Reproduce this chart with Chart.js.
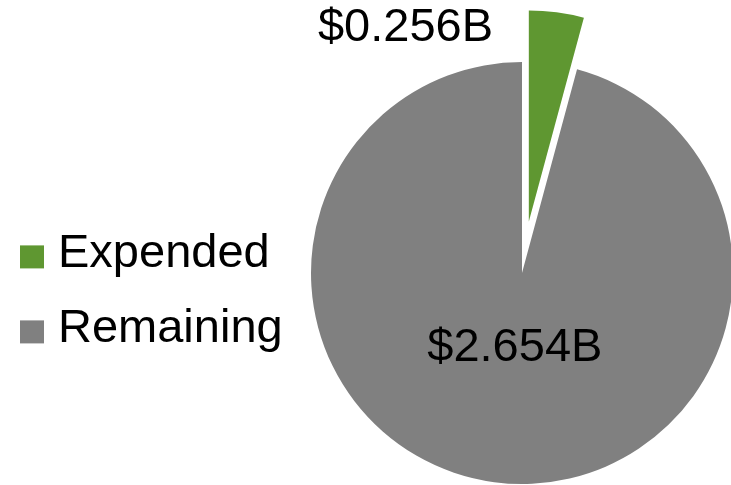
<!DOCTYPE html>
<html>
<head>
<meta charset="utf-8">
<script src="https://cdn.jsdelivr.net/npm/chart.js@4.4.0/dist/chart.umd.min.js"></script>
<style>
  html, body { margin: 0; padding: 0; background: #ffffff; overflow: hidden; }
  #wrap { width: 731px; height: 485px; position: relative; }
</style>
</head>
<body>
<div id="wrap"><canvas id="c"></canvas></div>
<script>
// ---- data ----
const categories = ['Expended', 'Remaining'];
const amountsBillions = [0.256, 2.654];          // printed on the slices
const sliceShares = [4.2, 95.8];                  // share of the circle each slice covers (%)
const sliceColors = ['#5F9731', '#808080'];
const explodeDistances = [52, 0];                 // px the slice is pulled out

const FONT = '"Liberation Sans", Arial, Helvetica, sans-serif';

// draws every arc through the library's ArcElement, translated along its mid-angle
const explodePlugin = {
  id: 'explode',
  beforeDatasetDraw(chart, args, opts) {
    const ctx = chart.ctx;
    args.meta.data.forEach((arc, i) => {
      const d = (opts.distances && opts.distances[i]) || 0;
      const mid = (arc.startAngle + arc.endAngle) / 2;
      ctx.save();
      ctx.translate(Math.cos(mid) * d, Math.sin(mid) * d);
      arc.draw(ctx);
      ctx.restore();
    });
    return false;
  }
};

// value labels, positioned relative to the pie centre in radius units
const valueLabelPlugin = {
  id: 'valueLabels',
  afterDatasetsDraw(chart, args, opts) {
    const ctx = chart.ctx;
    const meta = chart.getDatasetMeta(0);
    const amounts = opts.amounts;
    ctx.save();
    ctx.font = opts.size + 'px ' + FONT;
    ctx.fillStyle = '#000000';
    ctx.textAlign = 'center';
    ctx.textBaseline = 'middle';
    meta.data.forEach((arc, i) => {
      const r = arc.outerRadius;
      const p = opts.positions[i];
      const text = '$' + amounts[i].toFixed(3) + 'B';
      ctx.fillText(text, arc.x + p.dx * r, arc.y + p.dy * r);
    });
    ctx.restore();
  }
};

// legend at the left
const sideLegendPlugin = {
  id: 'sideLegend',
  afterDraw(chart, args, opts) {
    const ctx = chart.ctx;
    const ds = chart.data.datasets[0];
    ctx.save();
    ctx.font = opts.size + 'px ' + FONT;
    ctx.textAlign = 'left';
    ctx.textBaseline = 'middle';
    chart.data.labels.forEach((label, i) => {
      const y = opts.y + i * opts.rowGap;
      ctx.fillStyle = ds.backgroundColor[i];
      ctx.fillRect(opts.x, y - opts.boxLift, opts.boxW, opts.boxH);
      ctx.fillStyle = '#000000';
      ctx.fillText(label, opts.textX, y);
    });
    ctx.restore();
  }
};

new Chart(document.getElementById('c'), {
  type: 'pie',
  data: {
    labels: categories,
    datasets: [{
      data: sliceShares,
      backgroundColor: sliceColors,
      borderWidth: 0,
      hoverOffset: 0
    }]
  },
  options: {
    responsive: true,
    maintainAspectRatio: false,
    animation: false,
    radius: 211,
    layout: { padding: { left: 313, top: 61, right: 0, bottom: 0 } },
    events: [],
    plugins: {
      legend: { display: false },
      tooltip: { enabled: false },
      explode: { distances: explodeDistances },
      valueLabels: {
        amounts: amountsBillions,
        size: 47,
        positions: [ { dx: -0.552, dy: -1.162 }, { dx: -0.034, dy: 0.355 } ]
      },
      sideLegend: { x: 20, y: 254.4, rowGap: 75, boxW: 24, boxH: 23, boxLift: 9, textX: 58, size: 47 }
    }
  },
  plugins: [explodePlugin, valueLabelPlugin, sideLegendPlugin]
});
</script>
</body>
</html>
